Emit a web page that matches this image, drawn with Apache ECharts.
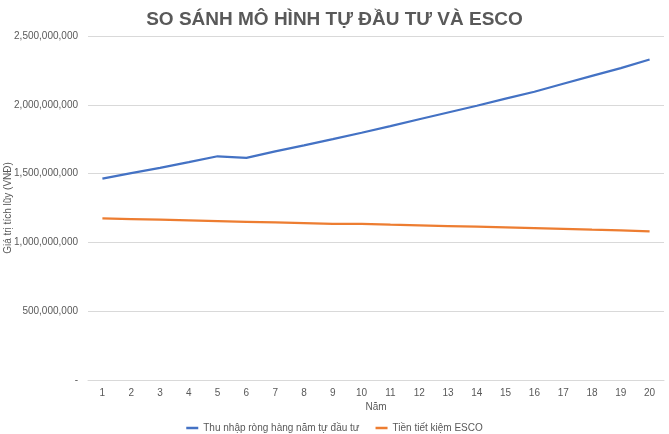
<!DOCTYPE html>
<html>
<head>
<meta charset="utf-8">
<script src="https://cdn.jsdelivr.net/npm/echarts@6/dist/echarts.min.js"></script>
<style>
html,body{margin:0;padding:0;background:#fff;}
#chart{width:669px;height:434px;}
</style>
</head>
<body>
<div id="chart"></div>
<script>
const years = ['1','2','3','4','5','6','7','8','9','10','11','12','13','14','15','16','17','18','19','20'];
const selfInvest = [1463000000,1503000000,1541000000,1583000000,1626000000,1614000000,1662000000,1705000000,1750000000,1797000000,1845000000,1895000000,1944000000,1993000000,2045000000,2095000000,2153000000,2210000000,2267000000,2329000000];
const escoSaving = [1175000000,1170000000,1165000000,1160000000,1155000000,1150000000,1145000000,1140000000,1135000000,1135000000,1129000000,1124000000,1119000000,1114000000,1109000000,1104000000,1099000000,1093000000,1088000000,1080000000];
const seriesNames = ['Thu nhập ròng hàng năm tự đầu tư','Tiền tiết kiệm ESCO'];

const font = 'Liberation Sans, Arial, sans-serif';
const chart = echarts.init(document.getElementById('chart'), null, {renderer:'canvas'});
chart.setOption({
  animation:false,
  backgroundColor:'#fff',
  textStyle:{fontFamily:font},
  title:{
    text:'SO SÁNH MÔ HÌNH TỰ ĐẦU TƯ VÀ ESCO',
    left:'center', top:5,
    textStyle:{fontSize:19, fontWeight:'bold', color:'#595959', fontFamily:font}
  },
  legend:{
    top:418, left:'center',
    icon:'rect', itemWidth:12, itemHeight:2.5, itemGap:16,
    textStyle:{fontSize:10, color:'#595959', fontFamily:font},
    data:seriesNames
  },
  grid:{left:88, right:5, top:36, bottom:54, containLabel:false, outerBoundsMode:'none'},
  xAxis:{
    type:'category', data:years, boundaryGap:true,
    name:'Năm', nameLocation:'middle', nameGap:22, nameMoveOverlap:false,
    nameTextStyle:{fontSize:10, color:'#595959'},
    axisLine:{show:true, lineStyle:{color:'#d9d9d9'}},
    axisTick:{show:false},
    axisLabel:{fontSize:10, color:'#595959', margin:8}
  },
  yAxis:{
    type:'value', min:0, max:2500000000, interval:500000000,
    name:'Giá trị tích lũy (VNĐ)', nameLocation:'middle', nameGap:75, nameRotate:90,
    nameMoveOverlap:false,
    nameTextStyle:{fontSize:10, color:'#595959'},
    axisLine:{show:false}, axisTick:{show:false},
    splitLine:{lineStyle:{color:'#d9d9d9'}},
    axisLabel:{fontSize:10, color:'#595959', margin:10,
      formatter:v => v === 0 ? '-' : v.toLocaleString('en-US')}
  },
  series:[
    {name:seriesNames[0], type:'line', data:selfInvest, symbol:'none',
     lineStyle:{width:2.25, color:'#4472C4'}, itemStyle:{color:'#4472C4'}},
    {name:seriesNames[1], type:'line', data:escoSaving, symbol:'none',
     lineStyle:{width:2.25, color:'#ED7D31'}, itemStyle:{color:'#ED7D31'}}
  ]
});
</script>
</body>
</html>
